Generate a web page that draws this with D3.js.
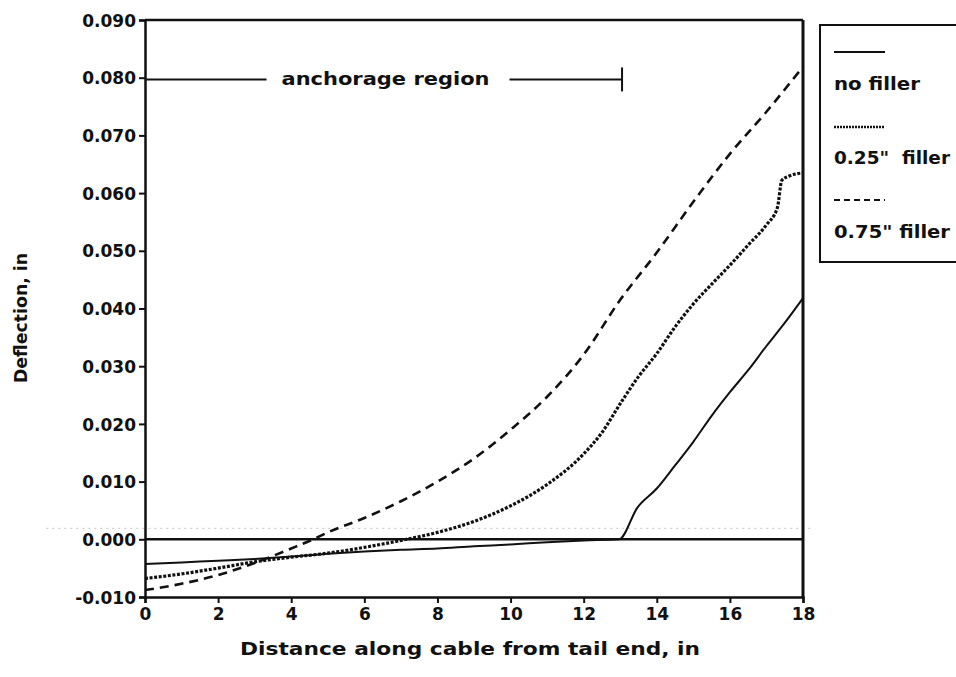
<!DOCTYPE html>
<html>
<head>
<meta charset="utf-8">
<script src="https://cdn.jsdelivr.net/npm/d3@7"></script>
<style>
  html, body { margin: 0; padding: 0; background: #fff; }
  svg { display: block; }
  text { font-family: "DejaVu Sans", "Liberation Sans", Arial, sans-serif; font-weight: bold; fill: #111; }
</style>
</head>
<body>
<svg id="chart" width="956" height="677"></svg>
<script>
// ---------------- data ----------------
const xTicks = [0, 2, 4, 6, 8, 10, 12, 14, 16, 18];
const yTicks = [-0.010, 0.000, 0.010, 0.020, 0.030, 0.040, 0.050, 0.060, 0.070, 0.080, 0.090];
const yTickLabels = ["-0.010", "0.000", "0.010", "0.020", "0.030", "0.040", "0.050", "0.060", "0.070", "0.080", "0.090"];

const noFillerX = [0, 1, 2, 3, 4, 5, 6, 7, 8, 9, 10, 11, 12, 12.97, 13.47, 14.0, 14.5, 15.0, 15.5, 16.0, 16.5, 17.0, 17.5, 18.0];
const noFillerY = [-0.0043, -0.0040, -0.0037, -0.0034, -0.0030, -0.0025, -0.0021, -0.0018, -0.0016, -0.0012, -0.0009, -0.0005, -0.0002, 0.0000, 0.0055, 0.0088, 0.0128, 0.0169, 0.0214, 0.0255, 0.0293, 0.0335, 0.0375, 0.0418];

const filler025X = [0, 1, 2, 3, 4, 5, 6, 7, 8, 9, 10, 11, 12, 12.5, 13, 13.5, 14, 14.5, 15, 15.5, 16, 16.5, 17, 17.3, 17.42, 17.6, 18];
const filler025Y = [-0.0068, -0.0060, -0.0050, -0.0039, -0.0031, -0.0024, -0.0014, -0.0002, 0.0012, 0.0031, 0.0058, 0.0095, 0.0148, 0.0185, 0.0235, 0.0282, 0.0322, 0.0368, 0.0408, 0.0442, 0.0475, 0.0510, 0.0545, 0.0575, 0.0622, 0.0629, 0.0635];

const filler075X = [0, 1, 2, 3, 4, 4.6, 5, 6, 7, 8, 9, 10, 11, 12, 13, 14, 15, 16, 17, 18];
const filler075Y = [-0.0088, -0.0077, -0.0062, -0.0041, -0.0016, 0.0000, 0.0012, 0.0037, 0.0066, 0.0100, 0.0140, 0.0190, 0.0247, 0.0320, 0.0415, 0.0497, 0.0585, 0.0668, 0.0741, 0.0819];

const seriesNames = ["no filler", "0.25\"  filler", "0.75\" filler"];
const anchorageStart = 0, anchorageEnd = 13.05, anchorageLevel = 0.0797;
const anchorageLabel = "anchorage region";
const xTitle = "Distance along cable from tail end, in";
const yTitle = "Deflection, in";
const scanLineLevel = 0.0019;

// ---------------- layout ----------------
const svg = d3.select("#chart");
const plot = { left: 145, right: 803, top: 20, bottom: 597 };
const x = d3.scaleLinear().domain([0, 18]).range([plot.left, plot.right]);
const y = d3.scaleLinear().domain([-0.010, 0.090]).range([plot.bottom, plot.top]);

// faint scan artifact line
svg.append("line")
  .attr("x1", x(-2.7)).attr("x2", x(18.2))
  .attr("y1", y(scanLineLevel)).attr("y2", y(scanLineLevel))
  .attr("stroke", "#c4c4c4").attr("stroke-width", 1).attr("stroke-dasharray", "2,4");

// zero line
svg.append("line")
  .attr("x1", x(0)).attr("x2", x(18))
  .attr("y1", y(0)).attr("y2", y(0))
  .attr("stroke", "#111").attr("stroke-width", 2.5);

// axes
const yAxis = svg.append("g")
  .attr("transform", `translate(${plot.left},0)`)
  .call(d3.axisLeft(y).tickValues(yTicks).tickFormat(d => yTickLabels[yTicks.findIndex(t => Math.abs(t - d) < 1e-9)]).tickSize(6).tickPadding(3));
const xAxis = svg.append("g")
  .attr("transform", `translate(0,${plot.bottom})`)
  .call(d3.axisBottom(x).tickValues(xTicks).tickFormat(d3.format("d")).tickSize(6).tickPadding(5));
[yAxis, xAxis].forEach(g => {
  g.select(".domain").attr("stroke", "#111").attr("stroke-width", 2.5);
  g.selectAll(".tick line").attr("stroke", "#111").attr("stroke-width", 2);
  g.selectAll(".tick text").style("font-size", "17px").style("font-weight", "bold").attr("fill", "#111")
    .style("font-family", "\"DejaVu Sans\", \"Liberation Sans\", Arial, sans-serif");
});
yAxis.selectAll(".tick text").attr("dy", "0.36em");

// top and right frame
svg.append("line").attr("x1", x(0)).attr("x2", x(18)).attr("y1", y(0.09)).attr("y2", y(0.09))
  .attr("stroke", "#111").attr("stroke-width", 2.5);
svg.append("line").attr("x1", x(18)).attr("x2", x(18)).attr("y1", y(0.09)).attr("y2", y(-0.01))
  .attr("stroke", "#111").attr("stroke-width", 3);

// series
const line = d3.line().x(d => x(d[0])).y(d => y(d[1])).curve(d3.curveMonotoneX);
const zip = (a, b) => a.map((v, i) => [v, b[i]]);
const styles = [
  { dash: null, width: 2 },
  { dash: "3,1.6", width: 3.2 },
  { dash: "9,6", width: 2.6 }
];
const seriesData = [zip(noFillerX, noFillerY), zip(filler025X, filler025Y), zip(filler075X, filler075Y)];
seriesData.forEach((d, i) => {
  svg.append("path").datum(d)
    .attr("d", line)
    .attr("fill", "none")
    .attr("stroke", "#111")
    .attr("stroke-width", styles[i].width)
    .attr("stroke-dasharray", styles[i].dash);
});

// anchorage annotation
const ay = y(anchorageLevel);
const mid = x((anchorageStart + anchorageEnd) / 2) + 2;
const aText = svg.append("text")
  .attr("x", mid).attr("y", ay).attr("dy", "0.35em")
  .attr("text-anchor", "middle")
  .attr("textLength", 208).attr("lengthAdjust", "spacingAndGlyphs")
  .style("font-size", "17px")
  .text(anchorageLabel);
const bb = aText.node().getBBox();
svg.append("line").attr("x1", x(anchorageStart)).attr("x2", bb.x - 15).attr("y1", ay).attr("y2", ay)
  .attr("stroke", "#111").attr("stroke-width", 2);
svg.append("line").attr("x1", bb.x + bb.width + 20).attr("x2", x(anchorageEnd)).attr("y1", ay).attr("y2", ay)
  .attr("stroke", "#111").attr("stroke-width", 2);
svg.append("line").attr("x1", x(anchorageEnd)).attr("x2", x(anchorageEnd)).attr("y1", ay - 12).attr("y2", ay + 12)
  .attr("stroke", "#111").attr("stroke-width", 2);

// axis titles
svg.append("text")
  .attr("x", 470).attr("y", 655)
  .attr("text-anchor", "middle")
  .attr("textLength", 460).attr("lengthAdjust", "spacingAndGlyphs")
  .style("font-size", "17px")
  .text(xTitle);
svg.append("text")
  .attr("transform", `translate(27,${318}) rotate(-90)`)
  .attr("text-anchor", "middle")
  .attr("textLength", 130).attr("lengthAdjust", "spacingAndGlyphs")
  .style("font-size", "17px")
  .text(yTitle);

// legend
const leg = svg.append("g");
leg.append("rect").attr("x", 820).attr("y", 25).attr("width", 180).attr("height", 237)
  .attr("fill", "#fff").attr("stroke", "#111").attr("stroke-width", 2);
const legSampleY = [52, 127, 200];
const legTextY = [84, 158, 232];
const legTextLen = [86, 116, 116];
seriesNames.forEach((name, i) => {
  leg.append("line").attr("x1", 834).attr("x2", 885).attr("y1", legSampleY[i]).attr("y2", legSampleY[i])
    .attr("stroke", "#111").attr("stroke-width", i === 1 ? 2.4 : 2)
    .attr("stroke-dasharray", i === 0 ? null : (i === 1 ? "2,1" : "6,4"));
  leg.append("text").attr("x", 834).attr("y", legTextY[i]).attr("dy", "0.35em")
    .attr("xml:space", "preserve")
    .attr("textLength", legTextLen[i]).attr("lengthAdjust", "spacingAndGlyphs")
    .style("font-size", "17px")
    .text(name);
});
</script>
</body>
</html>
